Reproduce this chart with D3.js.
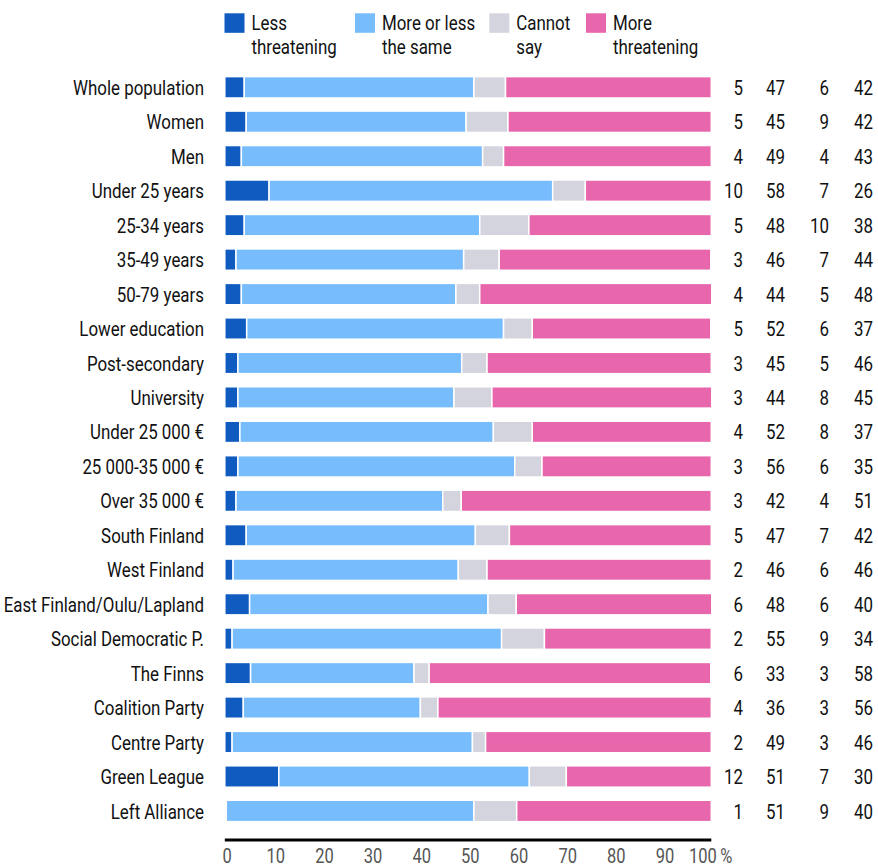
<!DOCTYPE html>
<html><head><meta charset="utf-8">
<script src="https://cdn.jsdelivr.net/npm/d3@7"></script>
<style>
body{margin:0;background:#fff;}
svg text{font-family:Roboto,'DejaVu Sans Condensed',sans-serif;}
</style></head>
<body><svg id="c" width="878" height="868"></svg>
<script>
const categories = ["Whole population","Women","Men","Under 25 years","25-34 years","35-49 years","50-79 years","Lower education","Post-secondary","University","Under 25 000 €","25 000-35 000 €","Over 35 000 €","South Finland","West Finland","East Finland/Oulu/Lapland","Social Democratic P.","The Finns","Coalition Party","Centre Party","Green League","Left Alliance"];
const seriesNames = ["Less threatening","More or less the same","Cannot say","More threatening"];
const seriesColors = ["#105bc0","#77bdfd","#d4d4de","#e866ab"];
// bar segment values (as drawn)
const lessThreat = [4.0,4.4,3.4,9.1,4.0,2.3,3.4,4.5,2.7,2.7,3.1,2.7,2.3,4.4,1.7,5.1,1.5,5.3,3.8,1.5,11.1,0.3];
const sameThreat = [47.2,45.2,49.6,58.3,48.4,46.8,44.1,52.8,46.0,44.4,52.1,56.9,42.5,47.1,46.3,49.0,55.4,33.6,36.4,49.4,51.5,50.9];
const cannotSay  = [6.5,8.6,4.3,6.7,10.1,7.3,4.9,5.9,5.2,7.8,8.0,5.6,3.8,7.0,5.9,5.8,8.8,3.1,3.6,2.7,7.6,8.8];
const moreThreat = [42.3,41.8,42.7,25.9,37.5,43.5,47.7,36.7,46.1,45.2,36.8,34.8,51.4,41.5,46.1,40.2,34.3,57.9,56.2,46.4,29.8,40.0];
// printed value columns
const lblLess = [5,5,4,10,5,3,4,5,3,3,4,3,3,5,2,6,2,6,4,2,12,1];
const lblSame = [47,45,49,58,48,46,44,52,45,44,52,56,42,47,46,48,55,33,36,49,51,51];
const lblCannot = [6,9,4,7,10,7,5,6,5,8,8,6,4,7,6,6,9,3,3,3,7,9];
const lblMore = [42,42,43,26,38,44,48,37,46,45,37,35,51,42,46,40,34,58,56,46,30,40];
const ticks = [0,10,20,30,40,50,60,70,80,90,100];

const FS = 21;
const TFS = 20.5;
const svg = d3.select("#c");
// horizontal condensing factor so the text matches the narrow original face
const probe = svg.append("text").attr("font-size",FS).text("Whole population");
const F = 131 / probe.node().getComputedTextLength();
probe.remove();

function ctext(parent, x, y, str, anchor, color, size){
  return parent.append("text")
    .attr("transform",`translate(${x},${y}) scale(${F},1)`)
    .attr("text-anchor",anchor).attr("font-size",size||FS).attr("fill",color||"#111").text(str);
}

const x = d3.scaleLinear().domain([0,100]).range([224.8,711.3]);
const step = 34.46;
const y = d3.scaleBand().domain(categories).range([87.3-step/2, 87.3-step/2+step*categories.length])
  .paddingInner(0.38).paddingOuter(0.19);

const series = [lessThreat, sameThreat, cannotSay, moreThreat];
const rows = categories.map((c,i)=>{
  let acc=0;
  return series.map((s,k)=>{const seg={cat:c,k,x0:acc,x1:acc+s[i]};acc+=s[i];return seg;});
});

svg.append("g").selectAll("g.row").data(rows).join("g").attr("class","row")
 .selectAll("rect").data(d=>d).join("rect")
 .attr("x",d=>x(d.x0)).attr("width",d=>Math.max(0,x(d.x1)-x(d.x0)))
 .attr("y",d=>y(d.cat)).attr("height",y.bandwidth())
 .attr("fill",d=>seriesColors[d.k]).attr("stroke","#fff").attr("stroke-width",1.5);

// category labels
const labG = svg.append("g");
categories.forEach(c=>{
  ctext(labG, 204, y(c)+y.bandwidth()/2, c, "end").attr("dy","0.36em");
});

// value columns
const cols = [[lblLess,743],[lblSame,785],[lblCannot,829],[lblMore,873]];
const valG = svg.append("g");
cols.forEach(([arr,cx])=>{
  arr.forEach((v,i)=>ctext(valG, cx, y(categories[i])+y.bandwidth()/2, v, "end").attr("dy","0.36em"));
});

// axis
const axis = d3.axisBottom(x).tickValues(ticks).tickSize(0).tickPadding(8).tickFormat(d=>d);
const ag = svg.append("g").attr("transform","translate(0,840)").call(axis);
ag.attr("font-family",null).attr("font-size",null);
ag.select(".domain").attr("stroke","#000").attr("stroke-width",3).attr("d",`M${x(0)},0H${x(100)}`);
ag.selectAll(".tick text").attr("font-size",TFS).attr("fill","#555")
  .attr("transform",d=>`translate(${d===100?-9:1.8},0) scale(${F},1)`);
const t100 = ag.selectAll(".tick").filter(d=>d===100).select("text");
const w100 = t100.node().getComputedTextLength()*F;
ag.append("text").attr("transform",`translate(${x(100)-9+w100/2+4},8) scale(${F},1)`).attr("dy","0.71em")
  .attr("font-size",TFS).attr("fill","#555").attr("text-anchor","start").text("%");

// legend
const legendX = [224.5,355,489.3,586];
const legendLines = [["Less","threatening"],["More or less","the same"],["Cannot","say"],["More","threatening"]];
const lg = svg.append("g").selectAll("g").data(seriesNames).join("g")
  .attr("transform",(d,i)=>`translate(${legendX[i]},0)`);
lg.append("rect").attr("x",0).attr("y",13.3).attr("width",20).attr("height",19.5)
  .attr("fill",(d,i)=>seriesColors[i]);
lg.each(function(d,i){
  const gg = d3.select(this);
  legendLines[i].forEach((ln,j)=>ctext(gg, 27, 29.5+24*j, ln, "start"));
});
</script></body></html>
